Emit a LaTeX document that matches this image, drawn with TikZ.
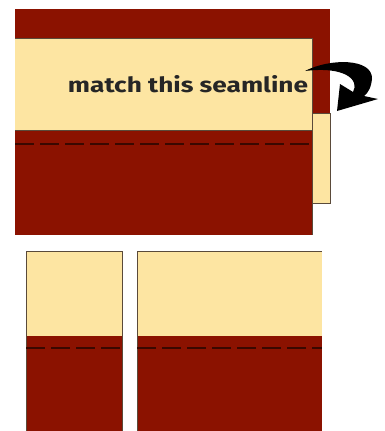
\documentclass[tikz,border=0pt]{standalone}
\usepackage{fontspec}
\setsansfont{Fira Sans}
\newfontfamily\handfont[FakeStretch=1.25]{Fira Sans}
\usetikzlibrary{positioning}
\definecolor{brick}{HTML}{8B1200}
\definecolor{cream}{HTML}{FDE5A2}
\definecolor{edge}{HTML}{5A4A3A}
\definecolor{stitch}{HTML}{3A0800}

\begin{document}
\begin{tikzpicture}[x=1pt,y=-1pt,font=\sffamily,
  seam/.style={stitch,line width=1.6pt,dash pattern=on 19pt off 6pt},
  rim/.style={edge,line width=.7pt}]
\useasboundingbox (0,0) rectangle (384,431);
% back strip, folded under the front one
\fill[brick] (15,9) rectangle (330,113);
\fill[cream,draw=edge,line width=.7pt] (312,113) rectangle (330,203);
% front strip
\fill[cream] (15,38) rectangle (312,130);
\fill[brick] (15,130) rectangle (312,235);
\draw[rim] (15,38) -- (312,38) -- (312,235);
\draw[rim] (15,130) -- (312,130);
\draw[seam] (15,144) -- (312,144);
\node[font=\handfont\bfseries\fontsize{21}{24}\selectfont,text=black!85] (label) at (188,84) {match this seamline};
% curved arrow onto the back strip
\fill[black] (305,71) .. controls (330,58) and (373,58) .. (372,79)
  .. controls (371,88) and (368,93) .. (364,96) -- (378,99) -- (337,111)
  -- (340,84) -- (353,92) .. controls (360,80) and (345,66) .. (305,71) -- cycle;
% the two cut pieces
\fill[cream] (26,251) rectangle (122,336);
\fill[brick] (26,336) rectangle (122,431);
\draw[rim] (26,431) -- (26,251) -- (122,251) -- (122,431);
\draw[seam] (26,348) -- (122,348);
\fill[cream] (137,251) rectangle (322,336);
\fill[brick] (137,336) rectangle (322,431);
\draw[rim] (137,431) -- (137,251) -- (322,251);
\draw[seam] (137,348) -- (322,348);
\end{tikzpicture}
\end{document}
